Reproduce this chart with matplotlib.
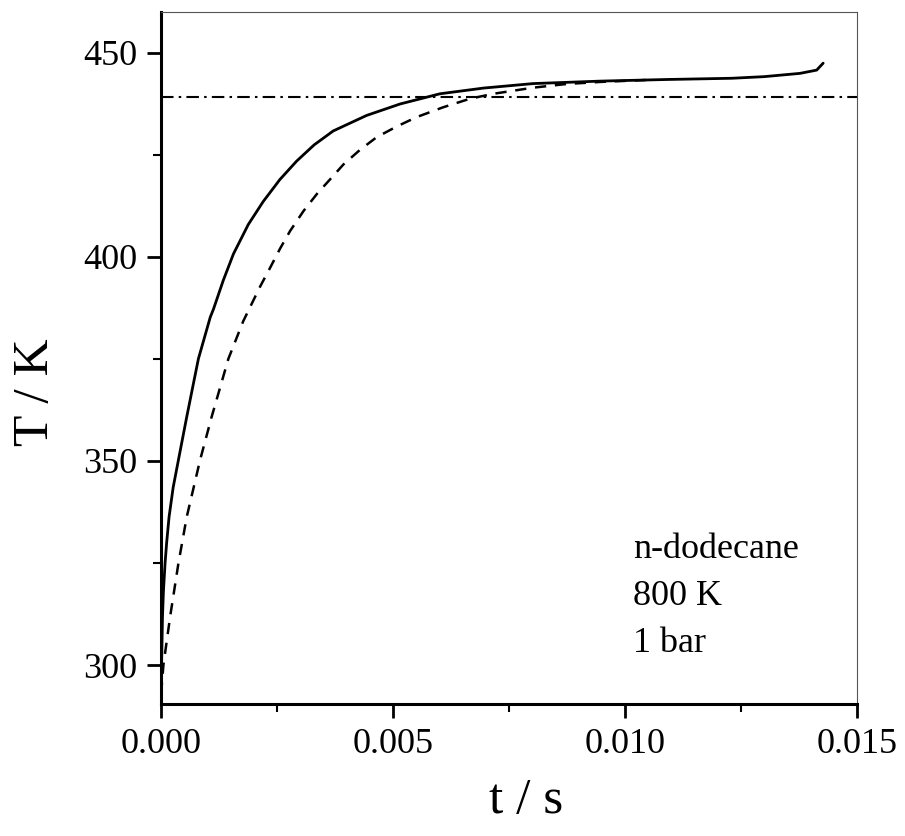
import matplotlib.pyplot as plt
import numpy as np
from matplotlib.ticker import MultipleLocator

plt.rcParams['font.family'] = ['Liberation Serif', 'DejaVu Serif']

# droplet surface temperature, full model (solid)
t_full = [0.0, 0.00001, 0.00003, 0.00005, 0.000086, 0.00012, 0.000172, 0.00026,
          0.000373, 0.000553, 0.000804, 0.00106, 0.00113, 0.00134, 0.00156,
          0.00188, 0.00220, 0.00256, 0.00292, 0.00330, 0.00371, 0.00443, 0.00515,
          0.00601, 0.00695, 0.00802, 0.00946, 0.0109, 0.0123, 0.0130, 0.01377,
          0.01413, 0.01427]
T_full = [293.0, 300.0, 311.8, 318.0, 325.0, 330.0, 336.3, 343.5,
          350.2, 360.8, 375.0, 385.2, 387.2, 394.2, 400.7,
          407.9, 413.5, 418.9, 423.4, 427.4, 430.8, 434.6, 437.4,
          439.9, 441.3, 442.4, 443.0, 443.4, 443.7, 444.1, 444.9,
          445.7, 447.4]

# simplified model (dashed)
t_simple = [0.0, 0.00005, 0.000194, 0.000373, 0.000553, 0.00084, 0.00109, 0.00145,
            0.00177, 0.00192, 0.00213, 0.00235, 0.00256, 0.00278, 0.00307,
            0.00336, 0.00371, 0.00393, 0.00429, 0.00465, 0.00508, 0.00551,
            0.00608, 0.00666, 0.00716, 0.00802, 0.00874, 0.00946, 0.0105]
T_simple = [293.0, 300.0, 311.8, 324.9, 336.3, 350.2, 360.8, 375.0,
            384.2, 387.7, 392.6, 397.3, 401.9, 406.3, 411.2,
            415.4, 419.8, 422.6, 426.2, 429.3, 431.9, 434.2,
            436.6, 438.7, 439.9, 441.4, 442.3, 442.8, 443.3]

# wet-bulb temperature
T_wb = 439.2
t_range = [0.0, 0.015]

info_lines = ['n-dodecane', '800 K', '1 bar']

fig = plt.figure(figsize=(9.05, 8.36), dpi=100)
ax = fig.add_axes([0.178, 0.158, 0.769, 0.828])

ax.plot(t_full, T_full, color='black', lw=2.0, solid_capstyle='round',
        solid_joinstyle='round')
ax.plot(t_simple, T_simple, color='black', lw=1.8, linestyle=(0, (4.5, 3.5)))
ax.plot(t_range, [T_wb, T_wb], color='black', lw=1.5, linestyle=(0, (6, 2.5, 1.2, 2.5)))

ax.set_xlim(0, 0.015)
ax.set_ylim(290.5, 460)

ax.xaxis.set_major_locator(MultipleLocator(0.005))
ax.xaxis.set_minor_locator(MultipleLocator(0.0025))
ax.yaxis.set_major_locator(MultipleLocator(50))
ax.yaxis.set_minor_locator(MultipleLocator(25))
ax.xaxis.set_major_formatter(plt.FuncFormatter(lambda v, p: f'{v:.3f}'))

ax.tick_params(which='major', direction='out', length=10, width=2, labelsize=26, pad=7)
ax.tick_params(which='minor', direction='out', length=6, width=1.5)
ax.tick_params(top=False, right=False)

for side in ['left', 'bottom']:
    ax.spines[side].set_linewidth(2.2)
    ax.spines[side].set_color('black')
for side in ['top', 'right']:
    ax.spines[side].set_linewidth(0.8)
    ax.spines[side].set_color('#555555')

ax.set_xlabel('t / s', fontsize=37)
ax.set_ylabel('T / K', fontsize=37)
ax.xaxis.set_label_coords(0.524, -0.107)
ax.yaxis.set_label_coords(-0.147, 0.45)

for i, line in enumerate(info_lines):
    ax.text(0.01017, 326.2 - i * 11.5, line, fontsize=26, ha='left', va='baseline')

fig.savefig('out.png', dpi=100)
